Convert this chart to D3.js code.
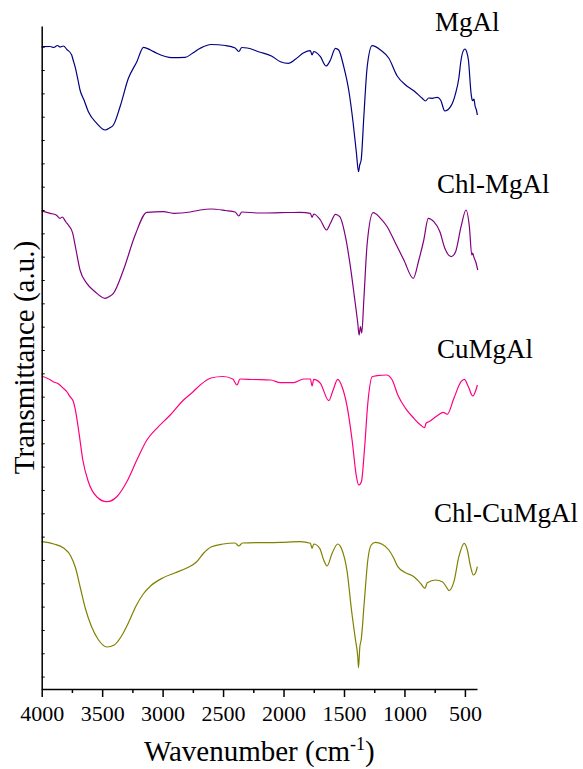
<!DOCTYPE html>
<html>
<head>
<meta charset="utf-8">
<script src="https://cdn.jsdelivr.net/npm/d3@7"></script>
<style>
  body { margin: 0; background: #fff; }
  svg text { font-family: "Liberation Serif", "Times New Roman", serif; fill: #000; }
</style>
</head>
<body>
<svg id="chart" width="583" height="769"></svg>
<script>
// Spectra: [wavenumber (cm-1), transmittance (a.u., offset)]
const seriesNames = ["MgAl", "Chl-MgAl", "CuMgAl", "Chl-CuMgAl"]

const mgal = [
  [4000, 64.23], [3930, 64.25], [3900, 64.15], [3870, 64.35], [3848, 64.2], [3820, 64.3],
  [3793, 63.97], [3752, 63.4], [3740, 62.9], [3724, 62.23], [3700, 60.9], [3683, 59.9],
  [3650, 58.9], [3614, 57.73], [3545, 56.57], [3476, 55.9], [3440, 56.1], [3407, 56.4],
  [3352, 58.23], [3283, 61.07], [3213, 62.73], [3158, 64.17], [3100, 63.9], [3048, 63.57],
  [2923, 63.13], [2813, 63.17], [2750, 63.6], [2689, 64.07], [2600, 64.45], [2480, 64.35],
  [2400, 64.1], [2370, 63.75], [2345, 64.15], [2300, 64.1], [2200, 63.7], [2100, 63.3],
  [2026, 62.73], [1958, 62.57], [1902, 62.97], [1833, 63.63], [1778, 63.83], [1764, 63.4],
  [1750, 63.75], [1736, 63.7], [1695, 63.23], [1648, 62.3], [1612, 62.9], [1571, 64.07],
  [1544, 63.9], [1502, 62.23], [1461, 59.9], [1424, 56.57], [1397, 53.57], [1380, 51.73],
  [1370, 52.4], [1358, 52.9], [1336, 57.23], [1308, 62.23], [1267, 64.33], [1198, 63.9],
  [1129, 63.07], [1060, 61.3], [991, 60.4], [922, 59.83], [853, 59.07], [826, 58.8],
  [800, 59.1], [770, 59.07], [729, 59.17], [701, 58.9], [666, 57.8], [619, 58.23],
  [577, 59.57], [550, 61.1], [532, 62.9], [510, 63.9], [498, 64.0], [485, 63.7],
  [471, 62.9], [449, 59.57], [440, 58.9], [435, 58.83], [425, 59.0], [416, 58.3],
  [405, 57.9], [397, 57.4]
]

const chlMgal = [
  [4000, 47.8], [3931, 47.57], [3880, 47.4], [3848, 47.07], [3830, 47.2], [3800, 46.7],
  [3780, 46.4], [3743, 45.57], [3735, 45.1], [3716, 43.9], [3683, 41.9], [3627, 40.57],
  [3559, 39.73], [3476, 39.07], [3440, 39.25], [3407, 39.57], [3324, 41.9], [3227, 45.4],
  [3130, 47.67], [2993, 47.73], [2910, 47.57], [2772, 47.7], [2689, 47.9], [2600, 48.0],
  [2480, 47.85], [2400, 47.7], [2370, 47.3], [2345, 47.7], [2200, 47.6], [2026, 47.63],
  [1861, 47.67], [1778, 47.57], [1764, 47.17], [1750, 47.5], [1695, 46.9], [1645, 45.9],
  [1612, 46.57], [1571, 47.47], [1535, 47.23], [1488, 45.23], [1447, 42.23], [1414, 39.23],
  [1386, 36.57], [1375, 35.4], [1364, 36.23], [1353, 35.6], [1336, 38.9], [1308, 44.57],
  [1259, 47.63], [1198, 47.07], [1143, 46.23], [1074, 44.57], [1005, 42.9], [927, 41.07],
  [881, 42.9], [840, 44.9], [803, 47.07], [757, 46.73], [707, 45.73], [666, 44.07],
  [613, 43.23], [577, 43.73], [532, 46.23], [491, 47.9], [463, 46.23], [443, 43.4],
  [435, 43.6], [427, 43.23], [410, 42.7], [394, 41.9]
]

const cuMgal = [
  [4000, 31.3], [3950, 31.05], [3904, 30.73], [3860, 30.5], [3821, 30.07], [3790, 29.7],
  [3766, 29.23], [3740, 28.8], [3724, 28.07], [3691, 25.57], [3660, 22.9], [3614, 20.73],
  [3545, 19.23], [3462, 18.73], [3379, 19.23], [3296, 20.73], [3213, 22.9], [3130, 24.9],
  [3048, 26.07], [2937, 27.4], [2827, 28.9], [2750, 29.7], [2689, 30.4], [2600, 31.1],
  [2500, 31.25], [2420, 31.0], [2385, 30.4], [2360, 31.0], [2250, 30.95], [2106, 30.9],
  [2026, 30.63], [1916, 30.63], [1833, 31.0], [1778, 31.0], [1764, 30.3], [1750, 30.97],
  [1695, 30.57], [1626, 28.83], [1590, 29.9], [1552, 30.97], [1516, 30.23], [1474, 28.23],
  [1433, 24.9], [1397, 21.23], [1378, 20.4], [1356, 20.73], [1331, 23.9], [1303, 28.57],
  [1267, 31.23], [1226, 31.33], [1149, 31.4], [1101, 30.9], [1055, 29.4], [991, 28.07],
  [922, 27.07], [867, 26.4], [834, 26.13], [820, 26.6], [798, 26.73], [729, 27.33],
  [679, 27.67], [646, 27.47], [591, 29.07], [532, 30.73], [505, 30.97], [471, 30.23],
  [435, 29.3], [409, 29.9], [397, 30.4]
]

const chlCuMgal = [
  [4000, 14.73], [3900, 14.5], [3820, 14.1], [3760, 13.3], [3720, 12.1], [3680, 10.1],
  [3640, 8.1], [3590, 6.3], [3530, 4.9], [3460, 4.2], [3400, 4.4], [3340, 5.3],
  [3280, 6.7], [3220, 8.3], [3160, 9.5], [3100, 10.3], [3000, 11.1], [2900, 11.6],
  [2800, 12.1], [2720, 12.7], [2660, 13.6], [2600, 14.2], [2500, 14.5],
  [2400, 14.6], [2370, 14.3], [2340, 14.6], [2026, 14.67], [1861, 14.73],
  [1778, 14.57], [1764, 14.07], [1750, 14.5], [1701, 14.07], [1668, 12.9], [1640, 12.3],
  [1598, 13.57], [1552, 14.5], [1516, 13.9], [1474, 11.73], [1438, 7.9], [1405, 4.9],
  [1386, 3.23], [1380, 2.13], [1369, 4.23], [1358, 4.9], [1331, 8.9], [1303, 12.9],
  [1275, 14.4], [1240, 14.67], [1184, 14.47], [1129, 13.9], [1088, 13.07], [1055, 12.23],
  [991, 11.63], [922, 11.23], [867, 10.57], [831, 10.07], [811, 10.63], [743, 10.9],
  [687, 10.73], [646, 10.07], [632, 9.83], [591, 10.73], [550, 13.23], [505, 14.57],
  [480, 13.9], [453, 12.23], [430, 11.4], [411, 11.63], [397, 12.23]
]

const seriesData = [mgal, chlMgal, cuMgal, chlCuMgal]
const xTicks = [4000, 3500, 3000, 2500, 2000, 1500, 1000, 500]

const colors = ["#000080", "#800080", "#ff0080", "#808000"]
// label spots: [x px, baseline px]
const labelPos = [[435, 31], [437, 193], [437, 358], [434, 522]]

const svg = d3.select("#chart")
const margin = {left: 41.7, right: 477, top: 26, bottom: 689}
const serif = '"Liberation Serif", "Times New Roman", serif'

const x = d3.scaleLinear().domain([4000, 400]).range([margin.left, margin.right])
const y = d3.scaleLinear().domain([0, 66.3]).range([margin.bottom, margin.top])

const line = d3.line()
  .x(d => x(d[0]))
  .y(d => y(d[1]))
  .curve(d3.curveMonotoneX)

svg.append("g")
  .selectAll("path")
  .data(seriesData)
  .join("path")
  .attr("d", d => line(d.slice().reverse()))
  .attr("fill", "none")
  .attr("stroke", (d, i) => colors[i])
  .attr("stroke-width", 1.2)

// x axis: major every 500, minor every 250
const xMinor = d3.range(3750, 400, -500)
svg.append("g")
  .attr("transform", `translate(0,${margin.bottom})`)
  .call(d3.axisBottom(x).tickValues(xMinor).tickSize(4).tickFormat("").tickSizeOuter(0))
  .call(g => g.select(".domain").remove())
  .call(g => g.selectAll("line").attr("stroke-width", 1.5))

const xAxis = svg.append("g")
  .attr("transform", `translate(0,${margin.bottom})`)
  .call(d3.axisBottom(x).tickValues(xTicks).tickSize(8).tickPadding(8)
    .tickSizeOuter(0).tickFormat(d3.format("d")))
  .attr("font-family", serif)
  .attr("font-size", 22)
xAxis.select(".domain").attr("stroke-width", 1.5)
xAxis.selectAll("line").attr("stroke-width", 1.5)
xAxis.selectAll("text")
  .style("font-family", serif)
  .style("font-size", "22px")
  .attr("dy", "0.71em")

// y axis: small inward ticks, no labels
const yTicks = d3.range(0, 28).map(k => 64.23 - k * 2.333)
const yAxis = svg.append("g")
  .attr("transform", `translate(${margin.left},0)`)
  .call(d3.axisLeft(y).tickValues(yTicks).tickSize(-3).tickFormat("").tickSizeOuter(0))
yAxis.select(".domain").attr("stroke-width", 1.5)
yAxis.selectAll("line").attr("stroke-width", 1)

// axis titles
const xt = svg.append("text")
  .attr("x", (margin.left + margin.right) / 2)
  .attr("y", 761)
  .attr("text-anchor", "middle")
  .style("font-size", "29px")
xt.append("tspan").text("Wavenumber (cm")
xt.append("tspan").text("-1").style("font-size", "18px").attr("dy", -11)
xt.append("tspan").text(")").attr("dy", 11)

svg.append("text")
  .attr("transform", `translate(34,${(margin.top + margin.bottom) / 2}) rotate(-90)`)
  .attr("text-anchor", "middle")
  .style("font-size", "29px")
  .text("Transmittance (a.u.)")

// series labels
svg.append("g")
  .selectAll("text")
  .data(seriesNames)
  .join("text")
  .attr("x", (d, i) => labelPos[i][0])
  .attr("y", (d, i) => labelPos[i][1])
  .style("font-size", "27px")
  .text(d => d)
</script>
</body>
</html>
